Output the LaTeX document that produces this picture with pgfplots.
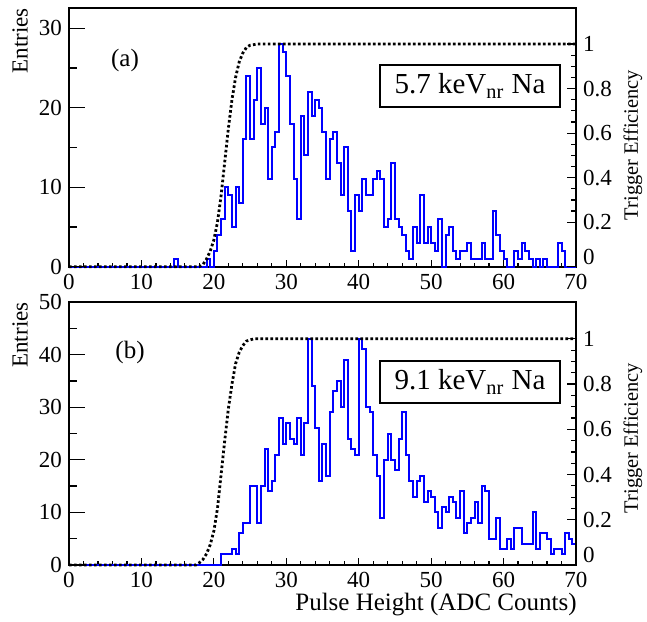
\documentclass[border=0pt]{standalone}
\usepackage{fontspec}
\setmainfont{Liberation Serif}
\usepackage{pgfplots}
\pgfplotsset{compat=1.18}
\pgfplotsset{
  panel/.style={at={(0pt,#1)}, anchor=north west, width=253.5pt, scale only axis,
    xmin=0, xmax=70, clip=false, tick align=inside,
    /pgf/number format/assume math mode=true,
    tick label style={font=\fontsize{11.5}{13}\selectfont},
    axis line style={line width=0.8pt},
    tick style={black, line width=0.6pt}},
  hist/.style={blue, line width=1pt, const plot mark left},
  eff/.style={black, line width=1.4pt, dash pattern=on 1.3pt off 1.2pt},
  effaxis/.style={hide x axis, axis y line*=right,
    ytick={0.2,0.4,0.6,0.8,1}, minor y tick num=3, major tick length=4.5pt, minor tick length=2.5pt,
    extra y ticks={0}, extra y tick style={yticklabel style={yshift=5pt}}},
}
\begin{document}
\begin{tikzpicture}
\useasboundingbox (-34.5pt,4pt) rectangle (289pt,-306.5pt);
% ---------------- panel (a)
\begin{axis}[panel=0pt, height=129.35pt, name=A, ymin=0, ymax=32.54,
  xtick={0,10,...,70}, minor x tick num=4, ytick={0,10,20,30}, minor y tick num=1,
  xtick pos=left, ytick pos=left, major tick length=3.5pt, minor tick length=2pt]
\addplot[hist] coordinates {(0,0) (14.5,1) (15,0) (19,1) (19.5,0) (20,2) (20.5,4) (21,6) (21.5,10) (22,9) (22.5,5) (23,10) (23.5,8) (24,16) (24.5,24) (25,16) (25.5,21) (26,25) (26.5,18) (27,20) (27.5,11) (28,15) (28.5,17) (29,28) (29.5,27) (30,24) (30.5,18) (31,11) (31.5,6) (32,19) (32.5,14) (33,22) (33.5,19) (34,21) (34.5,20) (35,17) (35.5,11) (36,16) (36.5,17) (37,13) (37.5,9) (38,15) (38.5,7) (39,2) (39.5,9) (40,7) (40.5,11) (41,9) (41.5,9) (42,11) (42.5,12) (43,11) (43.5,5) (44,6) (44.5,13) (45,6) (45.5,5) (46,4) (46.5,2) (47,1) (47.5,5) (48,3) (48.5,9) (49,3) (49.5,5) (50,3) (50.5,2) (51,6) (51.5,0) (52,4) (52.5,5) (53,2) (53.5,1) (54,2) (54.5,2) (55,3) (55.5,1) (56,1) (56.5,1) (57,3) (57.5,1) (58,1) (58.5,7) (59,4) (59.5,2) (60,1) (60.5,0) (61.5,2) (62,1) (62.5,3) (63,2) (63.5,1) (64,0) (64.5,1) (65,0) (65.5,1) (66,0) (67.5,3) (68,2) (68.5,0) (70,0)};
\end{axis}
\begin{axis}[panel=0pt, height=129.35pt, ymin=0, ymax=32.54, hide x axis, axis y line*=left,
  ytick={0,10,20,30}, minor y tick num=1, yticklabels={}, major tick length=8pt, minor tick length=4pt]
\end{axis}
\begin{axis}[panel=0pt, height=129.35pt, ymin=0, ymax=1.1621, effaxis]
\addplot[eff] coordinates {(0,0) (18,0) (18.5,0.01) (19,0.035) (19.5,0.07) (20,0.12) (20.5,0.2) (21,0.32) (21.5,0.47) (22,0.62) (22.5,0.75) (23,0.85) (23.5,0.92) (24,0.96) (24.5,0.985) (25,0.995) (26,1) (70,1)};
\end{axis}
\node[font=\fontsize{12.5}{14}\selectfont] at ([shift={(28pt,-26pt)}]A.north west) {(a)};
\node[draw, line width=0.75pt, minimum width=90pt, minimum height=21pt, inner sep=0pt, fill=white,
  font=\fontsize{14.5}{17}\selectfont] at ([shift={(200.5pt,-39pt)}]A.north west) {5.7 keV\textsubscript{nr} Na};
\node[rotate=90, anchor=east, inner sep=0pt, font=\fontsize{11.5}{13}\selectfont] at ([xshift=-24.5pt]A.north west) {Entries};
\node[rotate=90, inner sep=0pt, font=\fontsize{10.2}{12}\selectfont] at ([shift={(282pt,-68.5pt)}]A.north west) {Trigger Efficiency};
% ---------------- panel (b)
\begin{axis}[panel=-147pt, height=131.5pt, name=B, ymin=0, ymax=50,
  xtick={0,10,...,70}, minor x tick num=4, ytick={0,10,20,30,40,50}, minor y tick num=1,
  xtick pos=left, ytick pos=left, major tick length=3.5pt, minor tick length=2pt]
\addplot[hist] coordinates {(0,0) (21,2) (21.5,2) (22,2) (22.5,3) (23,2) (23.5,6) (24,8) (24.5,8) (25,15) (25.5,15) (26,8) (26.5,15) (27,22) (27.5,14) (28,16) (28.5,21) (29,28) (29.5,23) (30,27) (30.5,24) (31,23) (31.5,28) (32,21) (32.5,27) (33,43) (33.5,34) (34,26) (34.5,16) (35,23) (35.5,17) (36,29) (36.5,33) (37,35) (37.5,30) (38,39) (38.5,24) (39,22) (39.5,21) (40,43) (40.5,41) (41,30) (41.5,29) (42,21) (42.5,17) (43,9) (43.5,20) (44,25) (44.5,20) (45,18) (45.5,24) (46,29) (46.5,21) (47,16) (47.5,13) (48,16) (48.5,17) (49,12) (49.5,14) (50,13) (50.5,10) (51,7) (51.5,11) (52,10) (52.5,13) (53,12) (53.5,9) (54,14) (54.5,6) (55,8) (55.5,9) (56,12) (56.5,8) (57,15) (57.5,14) (58,5) (58.5,5) (59,9) (59.5,3) (60,3) (60.5,5) (61,3) (61.5,7) (62,7) (62.5,4) (63,4) (63.5,4) (64,10) (64.5,3) (65,6) (65.5,6) (66,5) (66.5,2) (67,3) (67.5,3) (68,2) (68.5,6) (69,5) (69.5,4) (70,4)};
\end{axis}
\begin{axis}[panel=-147pt, height=131.5pt, ymin=0, ymax=50, hide x axis, axis y line*=left,
  ytick={0,10,20,30,40,50}, minor y tick num=1, yticklabels={}, major tick length=8pt, minor tick length=4pt]
\end{axis}
\begin{axis}[panel=-147pt, height=131.5pt, ymin=0, ymax=1.1628, effaxis]
\addplot[eff] coordinates {(0,0) (17.5,0) (18,0.01) (18.5,0.025) (19,0.05) (19.5,0.09) (20,0.15) (20.5,0.25) (21,0.4) (21.5,0.55) (22,0.69) (22.5,0.8) (23,0.89) (23.5,0.94) (24,0.97) (24.5,0.99) (25.5,1) (70,1)};
\end{axis}
\node[font=\fontsize{12.5}{14}\selectfont] at ([shift={(30.5pt,-25pt)}]B.north west) {(b)};
\node[draw, line width=0.75pt, minimum width=90pt, minimum height=21pt, inner sep=0pt, fill=white,
  font=\fontsize{14.5}{17}\selectfont] at ([shift={(200.5pt,-40pt)}]B.north west) {9.1 keV\textsubscript{nr} Na};
\node[rotate=90, anchor=east, inner sep=0pt, font=\fontsize{11.5}{13}\selectfont] at ([xshift=-24.5pt]B.north west) {Entries};
\node[rotate=90, inner sep=0pt, font=\fontsize{10.2}{12}\selectfont] at ([shift={(282pt,-68pt)}]B.north west) {Trigger Efficiency};
\node[anchor=east, inner sep=0pt, font=\fontsize{12.5}{14}\selectfont] at ([shift={(254pt,-151.5pt)}]B.north west) {Pulse Height (ADC Counts)};
\end{tikzpicture}
\end{document}
